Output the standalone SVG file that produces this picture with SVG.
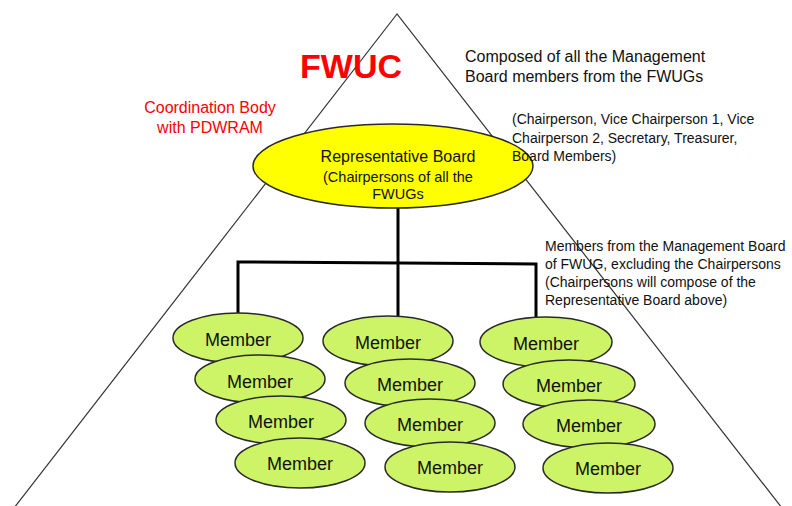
<svg xmlns="http://www.w3.org/2000/svg" width="792" height="506" viewBox="0 0 792 506">
<style>
text{font-family:"Liberation Sans",Arial,sans-serif;fill:#111}
.red{fill:#ff0000}
.note{font-size:14px}
.mem ellipse{fill:#ccf466;stroke:#2a2a2a;stroke-width:1.5}
.mem text{font-size:18px;text-anchor:middle}
.conn{stroke:#000;stroke-width:3;fill:none}
</style>
<rect width="792" height="506" fill="#fff"/>
<g id="pyramid"><polygon points="397,14 14,508 782,508" fill="none" stroke="#333" stroke-width="1.2"/></g>
<g id="title"><text x="351" y="78" class="red" font-size="34" font-weight="bold" text-anchor="middle">FWUC</text></g>
<g id="note-composed" font-size="16">
<text x="465" y="62">Composed of all the Management</text>
<text x="465" y="82">Board members from the FWUGs</text>
</g>
<g id="note-coordination" font-size="16" text-anchor="middle">
<text x="210" y="113" class="red">Coordination Body</text>
<text x="210" y="133" class="red">with PDWRAM</text>
</g>
<g id="note-members" class="note">
<text x="545" y="251">Members from the Management Board</text>
<text x="545" y="269">of FWUG, excluding the Chairpersons</text>
<text x="545" y="287">(Chairpersons will compose of the</text>
<text x="545" y="305">Representative Board above)</text>
</g>
<g id="connectors" class="conn">
<line x1="398" y1="208" x2="398" y2="318"/>
<polyline points="238,316 238,262 536,264 536,318"/>
</g>
<g id="rep-board">
<ellipse cx="393" cy="166" rx="140" ry="42" fill="#ffff00" stroke="#2a2a2a" stroke-width="1.5"/>
<text x="398" y="162" font-size="16" text-anchor="middle">Representative Board</text>
<text x="398" y="182" font-size="14.5" text-anchor="middle">(Chairpersons of all the</text>
<text x="398" y="199" font-size="14.5" text-anchor="middle">FWUGs</text>
</g>
<g id="note-roles" class="note">
<text x="512" y="124">(Chairperson, Vice Chairperson 1, Vice</text>
<text x="512" y="143">Chairperson 2, Secretary, Treasurer,</text>
<text x="512" y="161">Board Members)</text>
</g>
<g id="col1" class="mem">
<g id="m11"><ellipse cx="238" cy="338" rx="65" ry="25"/><text x="238" y="346">Member</text></g>
<g id="m12"><ellipse cx="260" cy="379" rx="65" ry="24"/><text x="260" y="388">Member</text></g>
<g id="m13"><ellipse cx="281" cy="420" rx="65" ry="24"/><text x="281" y="428">Member</text></g>
<g id="m14"><ellipse cx="300" cy="463" rx="65" ry="25"/><text x="300" y="470">Member</text></g>
</g>
<g id="col2" class="mem">
<g id="m21"><ellipse cx="388" cy="341" rx="65" ry="25"/><text x="388" y="349">Member</text></g>
<g id="m22"><ellipse cx="410" cy="383" rx="65" ry="24"/><text x="410" y="391">Member</text></g>
<g id="m23"><ellipse cx="430" cy="423" rx="65" ry="24"/><text x="430" y="431">Member</text></g>
<g id="m24"><ellipse cx="450" cy="467" rx="65" ry="25"/><text x="450" y="474">Member</text></g>
</g>
<g id="col3" class="mem">
<g id="m31"><ellipse cx="546" cy="342" rx="66" ry="25"/><text x="546" y="350">Member</text></g>
<g id="m32"><ellipse cx="569" cy="384" rx="66" ry="24"/><text x="569" y="392">Member</text></g>
<g id="m33"><ellipse cx="589" cy="424" rx="66" ry="24"/><text x="589" y="432">Member</text></g>
<g id="m34"><ellipse cx="608" cy="468" rx="65" ry="25"/><text x="608" y="475">Member</text></g>
</g>
</svg>
